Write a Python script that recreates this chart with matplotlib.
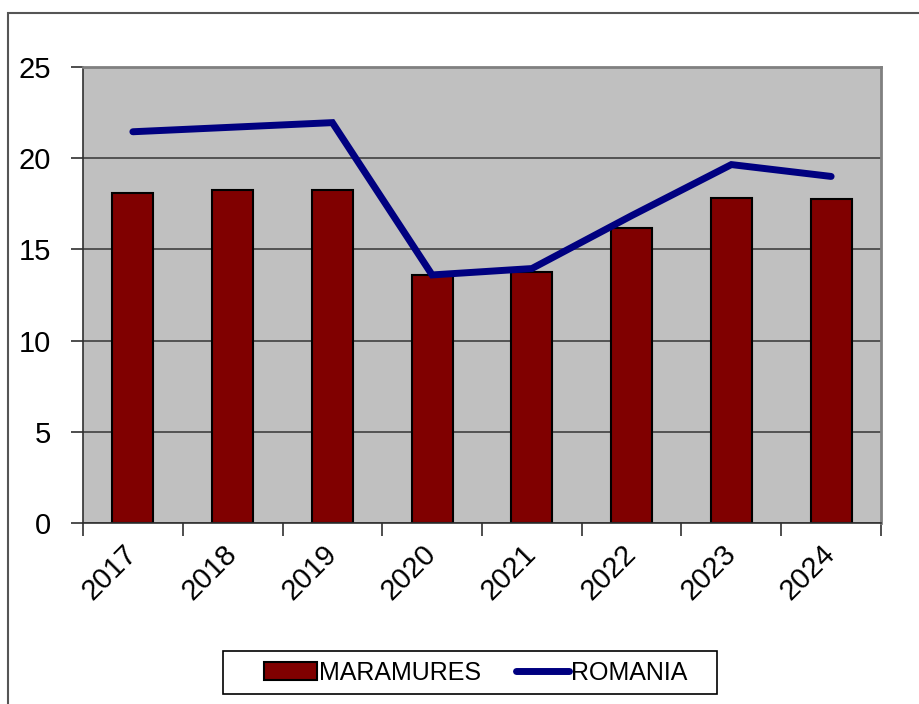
import matplotlib
matplotlib.use("Agg")
import matplotlib.pyplot as plt
import matplotlib.patches as mpatches
import numpy as np

plt.rcParams["font.family"] = ["Liberation Sans", "DejaVu Sans"]

years = ["2017", "2018", "2019", "2020", "2021", "2022", "2023", "2024"]
maramures = [18.1, 18.25, 18.25, 13.6, 13.75, 16.2, 17.8, 17.75]
romania = [21.45, 21.7, 21.95, 13.6, 13.95, 16.85, 19.65, 19.0]

W, H = 920, 704
fig = plt.figure(figsize=(W / 100, H / 100), dpi=100)
ax = fig.add_axes([83 / W, 1 - 523 / H, (881 - 83) / W, (523 - 67) / H])

x = np.arange(len(years))
ax.set_facecolor("#c0c0c0")
ax.set_axisbelow(True)
ax.yaxis.grid(True, color="#404040", lw=1.2)

bars = ax.bar(x, maramures, width=0.41, color="#800000", edgecolor="black", lw=1.5,
              label="MARAMURES", zorder=2)
line, = ax.plot(x, romania, color="#000080", lw=5, solid_capstyle="round",
                solid_joinstyle="miter", label="ROMANIA", zorder=3)

ax.set_xlim(-0.5, len(years) - 0.5)
ax.set_ylim(0, 25)
ax.set_yticks([0, 5, 10, 15, 20, 25])

# ticks between categories, labels at the centres
ax.set_xticks(np.arange(-0.5, len(years)), labels=[""] * (len(years) + 1))
ax.set_xticks(x, labels=years, minor=True)
ax.tick_params(axis="x", which="minor", length=0, labelsize=21, pad=19)
ax.tick_params(axis="x", which="major", length=9, width=1.2, color="#303030")
ax.tick_params(axis="y", length=9, width=1.2, color="#303030", labelsize=21, pad=14)
for lab in ax.get_xticklabels(minor=True):
    lab.set_rotation(45)
    lab.set_ha("right")
    lab.set_va("center")
    lab.set_rotation_mode("anchor")

for s in ["top", "right"]:
    ax.spines[s].set_color("#808080")
    ax.spines[s].set_linewidth(2)
for s in ["left", "bottom"]:
    ax.spines[s].set_color("#303030")
    ax.spines[s].set_linewidth(1.2)

# legend without its own frame; box drawn separately (wider padding as in Excel)
fig.legend([bars, line], ["MARAMURES", "ROMANIA"], loc="center",
           bbox_to_anchor=(476 / W, 1 - 672.5 / H), ncol=2,
           fontsize=18, frameon=False,
           handlelength=2.1, handletextpad=0.1, columnspacing=1.4,
           borderpad=0.3, borderaxespad=0)
fig.patches.append(mpatches.Rectangle((223 / W, 1 - 694 / H), (717 - 223) / W, 43 / H,
                                      transform=fig.transFigure, fill=False,
                                      edgecolor="black", lw=1.2))

# outer chart border
fig.patches.append(mpatches.Rectangle((8 / W, -0.1), 1.2, 1.1 - 13 / H,
                                      transform=fig.transFigure, fill=False,
                                      edgecolor="#555555", lw=1.5))

fig.savefig("out.png", dpi=100)
